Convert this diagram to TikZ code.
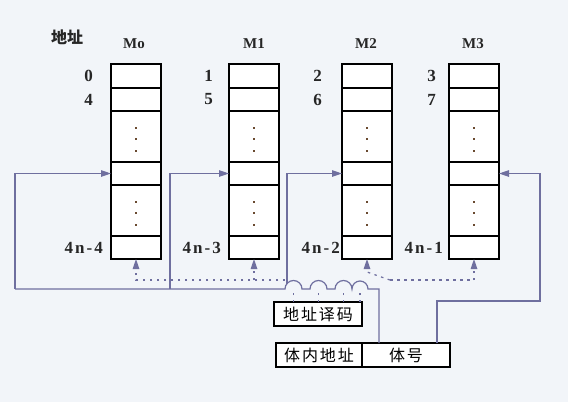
\documentclass[tikz,border=0pt]{standalone}
\usepackage{fontspec}
\setmainfont{Liberation Serif}
\newfontfamily\cjk{Noto Sans CJK SC}
\newfontfamily\cjkw[LetterSpace=12]{Noto Sans CJK SC}
\newfontfamily\wideser[LetterSpace=12]{Liberation Serif}
\usetikzlibrary{arrows.meta}
\definecolor{bg}{HTML}{F2F5F9}
\definecolor{wire}{HTML}{6F6F9F}
\definecolor{dotc}{HTML}{6A4A30}
\begin{document}
\begin{tikzpicture}[x=1pt,y=-1pt,
  cell/.style={draw=black,line width=1.2pt,fill=white,minimum width=50pt,inner sep=0pt,outer sep=0pt},
  feed/.style={draw=wire,line width=1.2pt},
  ptr/.style={draw=wire,line width=1.2pt,dash pattern=on 2.5pt off 4.5pt},
  tip/.style={-{Triangle[length=10pt,width=6.5pt]}},
  lbl/.style={font=\bfseries\fontsize{17}{17}\selectfont,text=black!85,inner sep=0pt},
  wlbl/.style={font=\wideser\bfseries\fontsize{17}{17}\selectfont,text=black!85,inner sep=0pt},
  ttl/.style={font=\bfseries\fontsize{15}{15}\selectfont,text=black!85,inner sep=0pt},
  cn/.style={font=\cjk\bfseries\fontsize{16}{16}\selectfont,text=black!85,inner sep=0pt},
  boxn/.style={draw=black,line width=1.2pt,fill=white,inner sep=0pt,outer sep=0pt,minimum height=24pt,font=\cjkw\fontsize{16}{16}\selectfont}]
\fill[bg] (0,0) rectangle (568,402);
\useasboundingbox (0,0) rectangle (568,402);
% memory columns
\foreach \i/\x in {0/136,1/254,2/367,3/474}{
  \foreach \r/\yc/\h in {1/76/24,2/99.5/23,3/136.5/51,4/173.5/23,5/210.5/51,6/247.5/23}{
    \node[cell,minimum height=\h pt] (c\i-\r) at (\x,\yc) {};
  }
  \foreach \yy in {128,139,151,202,213,225}{
    \fill[dotc] (\x-0.8,\yy-0.8) rectangle +(1.6,1.6);
  }
}
% titles
\node[cn] (addr) at (67,37) {地址};
\node[ttl] (t0) at (134,44) {Mo};
\node[ttl] (t1) at (254,44) {M1};
\node[ttl] (t2) at (366,44) {M2};
\node[ttl] (t3) at (473,44) {M3};
% addresses
\node[lbl,anchor=east] (a00) at ([xshift=-18pt]c0-1.west) {0};
\node[lbl,anchor=east] (a01) at ([xshift=-18pt]c0-2.west) {4};
\node[lbl,anchor=east] (a10) at ([xshift=-16pt]c1-1.west) {1};
\node[lbl,anchor=east] (a11) at ([xshift=-16pt]c1-2.west) {5};
\node[lbl,anchor=east] (a20) at ([xshift=-20pt]c2-1.west) {2};
\node[lbl,anchor=east] (a21) at ([xshift=-20pt]c2-2.west) {6};
\node[lbl,anchor=east] (a30) at ([xshift=-13pt]c3-1.west) {3};
\node[lbl,anchor=east] (a31) at ([xshift=-13pt]c3-2.west) {7};
\node[wlbl,anchor=east] (e0) at ([xshift=-8pt]c0-6.west) {4n-4};
\node[wlbl,anchor=east] (e1) at ([xshift=-8pt]c1-6.west) {4n-3};
\node[wlbl,anchor=east] (e2) at ([xshift=-2pt]c2-6.west) {4n-2};
\node[wlbl,anchor=east] (e3) at ([xshift=-6pt]c3-6.west) {4n-1};
% boxes
\node[boxn,minimum width=88pt] (dec) at (318,314) {地址译码};
\node[boxn,minimum width=86pt] (nei) at (319,355) {体内地址};
\node[boxn,minimum width=88pt] (tihao) at (406,355) {体号};
% feedback wires
\coordinate (busL) at (15,289);
\coordinate (j1) at (170,289);
\coordinate (j2) at (287,283.5);
\coordinate (bk) at (379,289);
\coordinate (r1) at (437,301);
\coordinate (r2) at (540,301);
\draw[feed,tip] (busL) |- (c0-4.west);
\draw[feed,tip] (j1) |- (c1-4.west);
\draw[feed,tip] (j2) |- (c2-4.west);
\draw[feed] (busL) -- (285,289) arc[start angle=180,end angle=360,radius=8.5]
  -- (310,289) arc[start angle=180,end angle=360,radius=8.5]
  -- (335,289) arc[start angle=180,end angle=360,radius=8.5]
  arc[start angle=180,end angle=360,radius=8] -- (bk) -- (tihao.north -| bk);
\draw[feed,tip] (tihao.north -| r1) -- (r1) -- (r2) |- (c3-4.east);
% decoder outputs
\coordinate (d0) at (285,280);
\coordinate (d1) at (254,280);
\coordinate (d2) at (390,280);
\coordinate (d2b) at (367,272);
\draw[ptr,tip] (d0) -| (c0-6.south);
\draw[ptr,tip] (d1) -- (c1-6.south);
\draw[ptr,tip] (d2) -- (d2b) -- (c2-6.south);
\draw[ptr,tip] (d2) -| (c3-6.south);
\foreach \xx in {293.5,318.5,343.5,360}{
  \draw[ptr] (\xx,0 |- dec.north) -- (\xx,290);
}
\end{tikzpicture}
\end{document}
